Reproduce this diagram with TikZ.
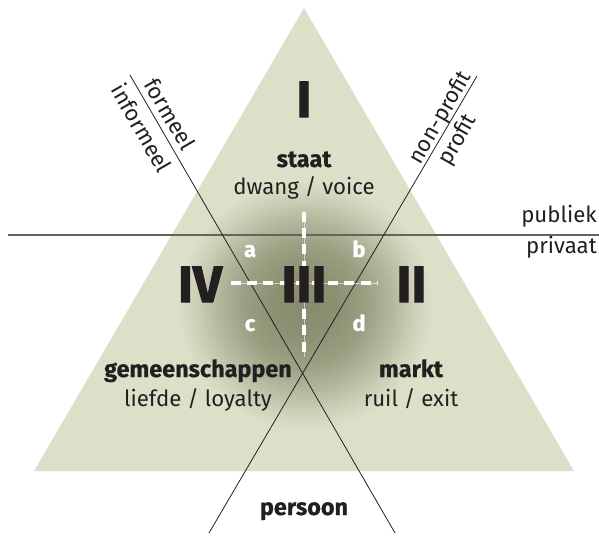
\documentclass[tikz,border=0pt]{standalone}
\usepackage{fontspec}
\setmainfont{Fira Sans}[BoldFeatures={FakeBold=0.6}]
\newfontfamily\numfont{Fira Sans}[BoldFeatures={FakeBold=2}]
\definecolor{tri}{RGB}{221,224,201}
\definecolor{blobc}{RGB}{134,139,108}
\definecolor{ink}{RGB}{35,31,32}
\definecolor{hlinec}{RGB}{100,100,98}
\colorlet{bA}{blobc!94!tri}
\colorlet{bB}{blobc!76!tri}
\colorlet{bC}{blobc!48!tri}
\colorlet{bD}{blobc!18!tri}
\pgfdeclareradialshading{blob}{\pgfpoint{0bp}{0bp}}{color(0bp)=(blobc); color(6bp)=(bA); color(12bp)=(bB); color(17bp)=(bC); color(21.5bp)=(bD); color(25bp)=(tri); color(50bp)=(tri)}
\begin{document}
\begin{tikzpicture}[x=1pt,y=-1pt,
  numeral/.style={font=\numfont\fontsize{51}{51}\selectfont\bfseries, text=ink, inner sep=0pt, anchor=base},
  sector/.style={font=\fontsize{23.4}{24}\selectfont\bfseries, text=ink, inner sep=0pt, anchor=base},
  motive/.style={font=\fontsize{22.2}{23}\selectfont, text=ink, inner sep=0pt, anchor=base},
  corner/.style={font=\fontsize{22}{22}\selectfont\bfseries, text=white, inner sep=0pt, anchor=base},
  axislabel/.style={font=\fontsize{22.2}{23}\selectfont, text=ink, inner sep=0pt},
  thinline/.style={line width=0.8pt, draw=ink},
  whitedash/.style={draw=white, line width=3.8pt, dash pattern=on 10pt off 6.2pt},
  whitethin/.style={draw=white, opacity=0.55, line width=0.8pt}
]
\useasboundingbox (0,0) rectangle (599,537);
% triangle
\coordinate (apex) at (304,8);
\coordinate (bl) at (34,471);
\coordinate (br) at (574,471);
\fill[tri] (apex) -- (bl) -- (br) -- cycle;
% dark blob
\begin{scope}
\clip (apex) -- (bl) -- (br) -- cycle;
\shade[shading=blob] (305,305) ellipse (128 and 125);
\end{scope}
% public/private line
\coordinate (h1) at (8,235);
\coordinate (h2) at (599,235);
\draw[draw=hlinec, line width=1.2pt] (h1) -- (h2);
% diagonals
\coordinate (f1) at (130,75);
\coordinate (f2) at (395,533);
\coordinate (p1) at (477,76);
\coordinate (p2) at (209,533);
\draw[thinline] (f1) -- (f2);
\draw[thinline] (p1) -- (p2);
% white dashed cross
\coordinate (v1) at (304,212);
\coordinate (v2) at (304,357);
\coordinate (w1) at (231,283);
\coordinate (w2) at (378,283);
\draw[whitethin] (v1) -- (v2);
\draw[whitethin] (w1) -- (w2);
\draw[whitedash] (v1) -- (v2);
\draw[whitedash] (w1) -- (w2);
% numerals
\node[numeral] (nI) at (304,117) {I};
\node[numeral] (nIV) at (200,302) {IV};
\node[numeral] (nIII) at (304,302) {III};
\node[numeral] (nII) at (411.5,302) {II};
% corner letters
\node[corner] (la) at (250,257) {a};
\node[corner] (lb) at (359,257) {b};
\node[corner] (lc) at (250,331) {c};
\node[corner] (ld) at (359,331) {d};
% sectors
\node[sector] (staat) at (304,167) {staat};
\node[motive] (staatm) at (304,195) {dwang / voice};
\node[sector] (gem) at (198,377) {gemeenschappen};
\node[motive] (gemm) at (198,406) {liefde / loyalty};
\node[sector] (markt) at (411,377) {markt};
\node[motive] (marktm) at (411,406) {ruil / exit};
\node[sector] (pers) at (304,515) {persoon};
% axis labels
\node[axislabel, anchor=base east] (pub) at (597,223) {publiek};
\node[axislabel, anchor=base east] (priv) at (597,253) {privaat};
\node[axislabel, rotate=-60] (form) at (170,114) {formeel};
\node[axislabel, rotate=-60] (inform) at (142,128) {informeel};
\node[axislabel, rotate=60] (nonp) at (441,118) {non-profit};
\node[axislabel, rotate=60] (prof) at (458,140) {profit};
\end{tikzpicture}
\end{document}
